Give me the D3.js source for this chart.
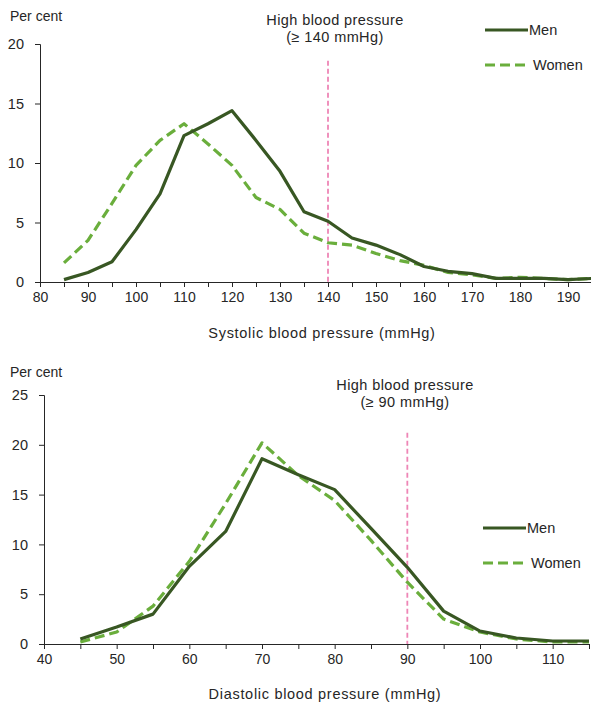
<!DOCTYPE html>
<html><head><meta charset="utf-8">
<script src="https://cdn.jsdelivr.net/npm/d3@7"></script>
<style>
body{margin:0;background:#fff;}
svg text{font-family:"Liberation Sans",Arial,sans-serif;fill:#262626;}
</style></head>
<body><svg id="c" width="591" height="704"></svg>
<script>
// ---- data ----
const sysX = [85,90,95,100,105,110,115,120,125,130,135,140,145,150,155,160,165,170,175,180,185,190,195];
const sysMen = [0.2,0.8,1.7,4.4,7.4,12.3,13.3,14.4,11.9,9.3,5.9,5.1,3.7,3.1,2.3,1.3,0.9,0.7,0.3,0.3,0.3,0.2,0.3];
const sysWomen = [1.6,3.5,6.6,9.8,11.9,13.3,11.6,9.8,7.1,6.1,4.1,3.3,3.1,2.4,1.8,1.4,0.8,0.6,0.3,0.4,0.3,0.2,0.3];
const diaX = [45,50,55,60,65,70,75,80,85,90,95,100,105,110,115];
const diaMen = [0.5,1.7,3.0,7.8,11.3,18.6,17.0,15.5,11.6,7.7,3.3,1.3,0.6,0.3,0.3];
const diaWomen = [0.2,1.2,3.8,8.3,14.1,20.2,16.9,14.4,10.4,6.2,2.5,1.2,0.5,0.2,0.2];
const sysXTicks = [80,90,100,110,120,130,140,150,160,170,180,190];
const sysYTicks = [0,5,10,15,20];
const diaXTicks = [40,50,60,70,80,90,100,110];
const diaYTicks = [0,5,10,15,20,25];
const seriesNames = ["Men","Women"];
const yLabel = "Per cent";
const sysTitle = "Systolic blood pressure (mmHg)";
const diaTitle = "Diastolic blood pressure (mmHg)";
const hbpLabel = "High blood pressure";
const sysThreshLabel = "(≥ 140 mmHg)";
const diaThreshLabel = "(≥ 90 mmHg)";
const sysThresh = 140, diaThresh = 90;

const menColor = "#385723", womenColor = "#6aae3c", pink = "#ee86b6", axisColor = "#262626";
const svg = d3.select("#c");

function panel(o){
  const g = svg.append("g");
  const x = d3.scaleLinear().domain(o.xDomain).range(o.xRange);
  const y = d3.scaleLinear().domain(o.yDomain).range(o.yRange);
  // x axis
  const xa = g.append("g").attr("transform",`translate(0,${y(0)})`)
    .call(d3.axisBottom(x).tickValues(d3.range(o.xDomain[0],o.xDomain[1]+0.1,5)).tickSize(5).tickFormat(""));
  xa.select(".domain").attr("stroke",axisColor);
  xa.selectAll(".tick line").attr("stroke",axisColor);
  const xl = g.append("g").attr("transform",`translate(0,${y(0)})`)
    .call(d3.axisBottom(x).tickValues(o.xTicks).tickSize(0).tickPadding(o.xPad));
  xl.select(".domain").remove();
  xl.selectAll("text").attr("font-size","14px").style("fill","#262626");
  // y axis
  const ya = g.append("g").attr("transform",`translate(${x(o.xDomain[0])},0)`)
    .call(d3.axisLeft(y).tickValues(o.yTicks).tickSize(5).tickPadding(o.yPad));
  ya.select(".domain").attr("stroke",axisColor);
  ya.selectAll(".tick line").attr("stroke",axisColor);
  ya.selectAll("text").attr("font-size","14.5px").style("fill","#262626");
  // threshold
  g.append("line").attr("x1",x(o.thresh)).attr("x2",x(o.thresh))
    .attr("y1",y(o.threshTop)).attr("y2",y(0))
    .attr("stroke",pink).attr("stroke-width",1.8).attr("stroke-dasharray","5,3");
  const line = d3.line().x((d,i)=>x(o.xs[i])).y(d=>y(d));
  g.append("path").datum(o.women).attr("d",line).attr("fill","none")
    .attr("stroke",womenColor).attr("stroke-width",3.2).attr("stroke-dasharray","10,5").attr("stroke-linejoin","round");
  g.append("path").datum(o.men).attr("d",line).attr("fill","none")
    .attr("stroke",menColor).attr("stroke-width",3.2).attr("stroke-linejoin","round");
  // labels
  g.append("text").attr("x",10).attr("y",o.perY).attr("font-size","14px").text(yLabel);
  g.append("text").attr("x",o.titleX).attr("y",o.titleY).attr("text-anchor","middle")
    .attr("font-size","14.5px").attr("letter-spacing","0.7px").text(o.title);
  g.append("text").attr("x",o.hbpX).attr("y",o.hbpY).attr("text-anchor","middle")
    .attr("font-size","14.5px").attr("letter-spacing","0.4px").text(hbpLabel);
  g.append("text").attr("x",o.hbpX).attr("y",o.hbpY+17).attr("text-anchor","middle")
    .attr("font-size","14.5px").attr("letter-spacing","0.4px").text(o.threshLabel);
  // legend
  const lg = g.append("g");
  lg.append("line").attr("x1",o.legX).attr("x2",o.legX+43).attr("y1",o.legY).attr("y2",o.legY)
    .attr("stroke",menColor).attr("stroke-width",3.2);
  lg.append("text").attr("x",o.legX+44).attr("y",o.legY+5).attr("font-size","14.5px").text(seriesNames[0]);
  lg.append("line").attr("x1",o.legX).attr("x2",o.legX+43).attr("y1",o.legY+35).attr("y2",o.legY+35)
    .attr("stroke",womenColor).attr("stroke-width",3.2).attr("stroke-dasharray","10,5");
  lg.append("text").attr("x",o.legX+48).attr("y",o.legY+40).attr("font-size","14.5px").text(seriesNames[1]);
}

panel({xDomain:[80,195], xRange:[40,592], yDomain:[0,20], yRange:[282,44],
  xTicks:sysXTicks, yTicks:sysYTicks, xs:sysX, men:sysMen, women:sysWomen,
  thresh:sysThresh, threshTop:18.6, xPad:10, yPad:11,
  perY:21, title:sysTitle, titleX:322, titleY:338,
  hbpX:335, hbpY:25, threshLabel:sysThreshLabel, legX:485, legY:30});

panel({xDomain:[40,115], xRange:[44,589], yDomain:[0,25], yRange:[644,395],
  xTicks:diaXTicks, yTicks:diaYTicks, xs:diaX, men:diaMen, women:diaWomen,
  thresh:diaThresh, threshTop:21.2, xPad:10, yPad:11,
  perY:377, title:diaTitle, titleX:325, titleY:699,
  hbpX:405, hbpY:390, threshLabel:diaThreshLabel, legX:483, legY:528});
</script></body></html>
